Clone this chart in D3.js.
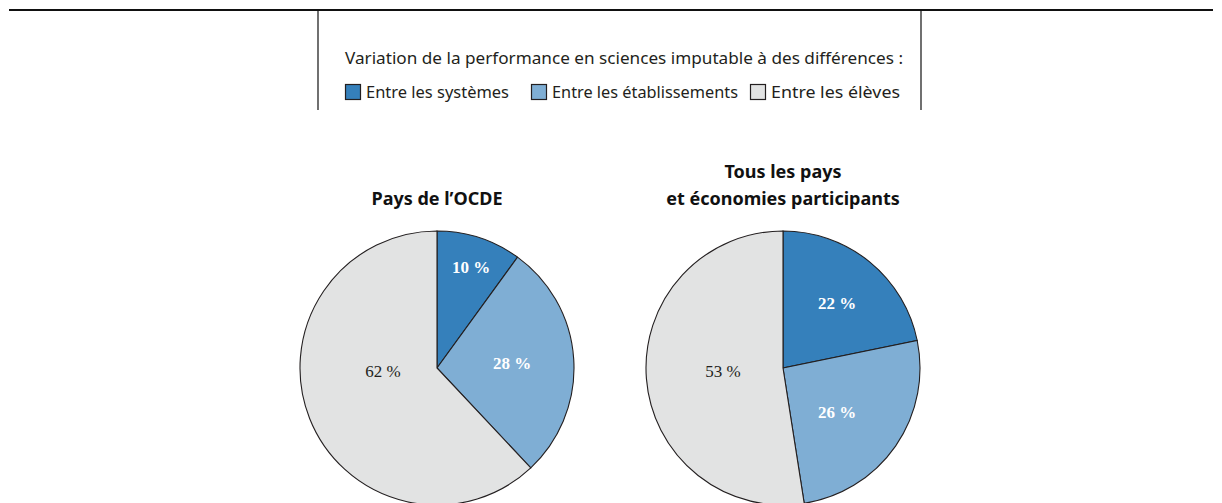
<!DOCTYPE html>
<html>
<head>
<meta charset="utf-8">
<script src="https://cdn.jsdelivr.net/npm/d3@7"></script>
<style>
  body { margin: 0; background: #fff; }
  svg { display: block; }
</style>
</head>
<body>
<div id="chart"></div>
<script>
var svgWidth = 1222;
var svgHeight = 503;

// data
var categories = ["Entre les systèmes", "Entre les établissements", "Entre les élèves"];
var oecdValues = [10, 28, 62];
var allValues = [22, 26, 53];
var pieTitles = [["Pays de l’OCDE"], ["Tous les pays", "et économies participants"]];
var legendTitle = "Variation de la performance en sciences imputable à des différences :";

var colors = ["#3580bb", "#7faed4", "#e2e3e3"];
var labelColors = ["#ffffff", "#ffffff", "#231f20"];
var sansFont = "'Noto Sans', Lato, sans-serif";

var svg = d3.select("#chart").append("svg")
  .attr("width", svgWidth)
  .attr("height", svgHeight);

//frame lines
svg.append("line")
  .attr("x1", 9).attr("x2", 1213)
  .attr("y1", 10).attr("y2", 10)
  .attr("stroke", "#111").attr("stroke-width", 2);

svg.selectAll(".vline")
  .data([318, 921])
  .enter()
  .append("line")
  .attr("x1", d => d).attr("x2", d => d)
  .attr("y1", 10).attr("y2", 110)
  .attr("stroke", "#111").attr("stroke-width", 1.2);

//legend
svg.append("text")
  .attr("x", 624)
  .attr("y", 64)
  .attr("text-anchor", "middle")
  .attr("font-family", sansFont)
  .attr("font-size", "16px")
  .attr("textLength", 558)
  .attr("lengthAdjust", "spacingAndGlyphs")
  .attr("fill", "#231f20")
  .text(legendTitle);

var legendX = [345, 531, 750];
var legendW = [143, 186, 129];
var legendGroup = svg.selectAll(".legend")
  .data(categories)
  .enter()
  .append("g")
  .attr("transform", (d, i) => `translate(${legendX[i]}, 84)`);

legendGroup.append("rect")
  .attr("x", 0.5).attr("y", 0.5)
  .attr("width", 15).attr("height", 15)
  .attr("fill", (d, i) => colors[i])
  .attr("stroke", "#231f20")
  .attr("stroke-width", 1.2);

legendGroup.append("text")
  .attr("x", 21)
  .attr("y", 14)
  .attr("font-family", sansFont)
  .attr("font-size", "16px")
  .attr("textLength", (d, i) => legendW[i])
  .attr("lengthAdjust", "spacingAndGlyphs")
  .attr("fill", "#231f20")
  .text(d => d);

//pies
var radius = 137;
var pie = d3.pie().sort(null).value(d => d);
var arc = d3.arc().innerRadius(0).outerRadius(radius);

function drawPie(values, cx, cy, titleLines, labelPos) {
  var g = svg.append("g")
    .attr("transform", `translate(${cx}, ${cy})`);

  var arcs = pie(values);

  g.selectAll("path")
    .data(arcs)
    .enter()
    .append("path")
    .attr("d", arc)
    .attr("fill", (d, i) => colors[i])
    .attr("stroke", "#231f20")
    .attr("stroke-width", 1.1);

  g.selectAll(".lbl")
    .data(arcs)
    .enter()
    .append("text")
    .attr("x", (d, i) => labelPos[i][0])
    .attr("y", (d, i) => labelPos[i][1])
    .attr("text-anchor", "middle")
    .attr("dy", "0.35em")
    .attr("font-family", "'Liberation Serif', serif")
    .attr("font-size", "17px")
    .attr("font-weight", (d, i) => i < 2 ? "bold" : "normal")
    .attr("fill", (d, i) => labelColors[i])
    .text(d => d.data + " %");

  var nLines = titleLines.length;
  g.selectAll(".title")
    .data(titleLines)
    .enter()
    .append("text")
    .attr("x", 0)
    .attr("y", (d, i) => -radius - 26 - (nLines - 1 - i) * 27)
    .attr("text-anchor", "middle")
    .attr("font-family", sansFont)
    .attr("font-weight", "bold")
    .attr("font-size", "18px")
    .attr("fill", "#111")
    .text(d => d);
}

drawPie(oecdValues, 437, 368, pieTitles[0], [[34, -101], [75, -5], [-54, 3]]);
drawPie(allValues, 783, 368, pieTitles[1], [[54, -65], [54, 44], [-60, 3]]);
</script>
</body>
</html>
